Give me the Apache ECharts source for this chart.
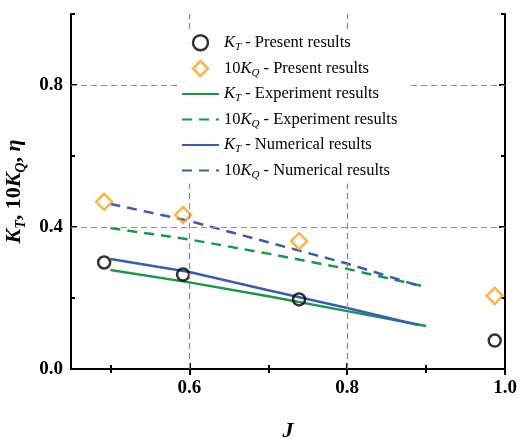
<!DOCTYPE html>
<html>
<head>
<meta charset="utf-8">
<script src="https://cdn.jsdelivr.net/npm/echarts@6/dist/echarts.min.js"></script>
<style>html,body{margin:0;padding:0;background:#fff}#c{width:531px;height:439px}</style>
</head>
<body>
<div id="c"></div>
<script>
// ---- data ----
const J_present = [0.492, 0.592, 0.739, 0.987];
const KT_present = [0.300, 0.266, 0.196, 0.080];
const KQ10_present = [0.471, 0.434, 0.360, 0.206];
const J_exp = [0.5, 0.6, 0.7, 0.8, 0.9];
const KT_exp = [0.279, 0.244, 0.205, 0.163, 0.121];
const KQ10_exp = [0.397, 0.365, 0.325, 0.282, 0.231];
const J_num = [0.5, 0.6, 0.7, 0.8, 0.89];
const KT_num = [0.310, 0.273, 0.222, 0.172, 0.124];
const KQ10_num = [0.465, 0.417, 0.357, 0.297, 0.235];
const xMajorTicks = [0.6, 0.8, 1.0];
const xMinorTicks = [0.5, 0.7, 0.9];
const yMajorTicks = [0.0, 0.4, 0.8];
const yMinorTicks = [0.2, 0.6, 1.0];
const xGridLines = [0.6, 0.8];
const yGridLines = [0.4, 0.8];
const seriesNames = ['KT - Present results', '10KQ - Present results', 'KT - Experiment results',
  '10KQ - Experiment results', 'KT - Numerical results', '10KQ - Numerical results'];
const legendRich = {
  'KT - Present results': '{i|K}{s|T}{t| - Present results}',
  '10KQ - Present results': '{t|10}{i|K}{s|Q}{t| - Present results}',
  'KT - Experiment results': '{i|K}{s|T}{t| - Experiment results}',
  '10KQ - Experiment results': '{t|10}{i|K}{s|Q}{t| - Experiment results}',
  'KT - Numerical results': '{i|K}{s|T}{t| - Numerical results}',
  '10KQ - Numerical results': '{t|10}{i|K}{s|Q}{t| - Numerical results}'
};

const zip = (a, b) => a.map((v, i) => [v, b[i]]);
const FONT = 'Liberation Serif';
const GREEN = '#17994a', BLUE = '#3a5cb3', ORANGE = '#ffa214';
const DIAMOND = 'path://M0,-1L1,0L0,1L-1,0Z';
const axisLineStyle = { show: true, lineStyle: { color: '#000', width: 2 } };

function xAx(pos, ticks, len, labels) {
  return {
    type: 'value', position: pos, min: 0.45, max: 1.0,
    axisLine: labels ? axisLineStyle : { show: false },
    axisTick: { show: true, inside: true, length: len, customValues: ticks, lineStyle: { color: '#000', width: 2 } },
    axisLabel: labels ? { show: true, customValues: labels, formatter: v => v.toFixed(1), margin: 10,
      fontFamily: FONT, fontWeight: 'bold', fontSize: 19, color: '#000' } : { show: false },
    splitLine: { show: false }
  };
}
function yAx(pos, ticks, len, labels) {
  return {
    type: 'value', position: pos, min: 0, max: 1.0,
    axisLine: labels !== null ? axisLineStyle : { show: false },
    axisTick: { show: true, inside: true, length: len, customValues: ticks, lineStyle: { color: '#000', width: 2 } },
    axisLabel: labels ? { show: true, customValues: labels, formatter: v => v.toFixed(1), margin: 8,
      fontFamily: FONT, fontWeight: 'bold', fontSize: 19, color: '#000' } : { show: false },
    splitLine: { show: false }
  };
}

const xAxes = [xAx('bottom', xMajorTicks, 6, xMajorTicks), xAx('bottom', xMinorTicks, 4, false),
  xAx('top', xMajorTicks, 6, false), xAx('top', xMinorTicks, 4, false)];
xAxes[2].axisLine = axisLineStyle;
Object.assign(xAxes[0], {
  name: 'J', nameLocation: 'middle', nameGap: 51,
  nameTextStyle: { fontFamily: FONT, fontWeight: 'bold', fontStyle: 'italic', fontSize: 22, color: '#000' }
});
const yAxes = [yAx('left', yMajorTicks, 6, yMajorTicks), yAx('left', yMinorTicks, 4, null),
  yAx('right', yMajorTicks, 6, false), yAx('right', yMinorTicks, 4, null)];
yAxes[2].axisLine = axisLineStyle;
Object.assign(yAxes[0], {
  name: '{i|K}{s|T}{b|, 10}{i|K}{s|Q}{b|, }{i|η}', nameLocation: 'middle', nameGap: 39, nameRotate: 90,
  nameTextStyle: {
    fontFamily: FONT, fontWeight: 'bold', fontSize: 22, color: '#000',
    rich: {
      i: { fontFamily: FONT, fontWeight: 'bold', fontStyle: 'italic', fontSize: 22, lineHeight: 28, color: '#000' },
      b: { fontFamily: FONT, fontWeight: 'bold', fontSize: 22, lineHeight: 28, color: '#000' },
      s: { fontFamily: FONT, fontWeight: 'bold', fontStyle: 'italic', fontSize: 14, lineHeight: 14, verticalAlign: 'bottom', color: '#000' }
    }
  }
});

const gridMarks = xGridLines.map(v => ({ xAxis: v })).concat(yGridLines.map(v => ({ yAxis: v })));
const hiddenSymbol = { color: 'rgba(0,0,0,0)', borderWidth: 0 };

const option = {
  animation: false,
  backgroundColor: '#fff',
  grid: { left: 71, right: 26, top: 14, bottom: 70, containLabel: false, outerBoundsMode: 'none' },
  xAxis: xAxes,
  yAxis: yAxes,
  legend: {
    orient: 'vertical', left: 177, top: 31, padding: [3, 12, 3, 4], z: 20,
    backgroundColor: '#fff', itemWidth: 37, itemHeight: 15, itemGap: 7,
    data: [
      { name: seriesNames[0], icon: 'path://M0,-1A1,1 0 1,1 0,1A1,1 0 1,1 0,-1Z', itemStyle: { borderWidth: 2.5 } },
      { name: seriesNames[1], icon: DIAMOND, itemStyle: { borderWidth: 2.5 } },
      seriesNames[2], seriesNames[3], seriesNames[4], seriesNames[5]
    ],
    formatter: n => legendRich[n],
    textStyle: {
      fontFamily: FONT, fontSize: 16.5, color: '#000',
      rich: {
        t: { fontFamily: FONT, fontSize: 16.5, lineHeight: 20, color: '#000' },
        i: { fontFamily: FONT, fontStyle: 'italic', fontSize: 16.5, lineHeight: 20, color: '#000' },
        s: { fontFamily: FONT, fontStyle: 'italic', fontSize: 11, lineHeight: 10, verticalAlign: 'bottom', color: '#000' }
      }
    }
  },
  series: [
    { name: seriesNames[2], type: 'line', data: zip(J_exp, KT_exp), symbol: 'none', z: 3,
      lineStyle: { color: GREEN, width: 2.5 }, itemStyle: hiddenSymbol,
      markLine: { silent: true, symbol: ['none', 'none'], label: { show: false },
        lineStyle: { color: '#8c8c8c', width: 1.2, type: [6, 4] }, emphasis: { disabled: true }, data: gridMarks } },
    { name: seriesNames[3], type: 'line', data: zip(J_exp, KQ10_exp), symbol: 'none', z: 3,
      lineStyle: { color: GREEN, width: 2.5, type: [10, 7] }, itemStyle: hiddenSymbol },
    { name: seriesNames[4], type: 'line', data: zip(J_num, KT_num), symbol: 'none', z: 3,
      lineStyle: { color: BLUE, width: 2.5 }, itemStyle: hiddenSymbol },
    { name: seriesNames[5], type: 'line', data: zip(J_num, KQ10_num), symbol: 'none', z: 3,
      lineStyle: { color: BLUE, width: 2.5, type: [10, 7] }, itemStyle: hiddenSymbol },
    { name: seriesNames[0], type: 'scatter', data: zip(J_present, KT_present), symbol: 'circle', symbolSize: 12, z: 4,
      itemStyle: { color: 'rgba(255,255,255,0)', borderColor: '#000', borderWidth: 2.5 } },
    { name: seriesNames[1], type: 'scatter', data: zip(J_present, KQ10_present), symbol: DIAMOND, symbolSize: [16, 16], z: 4,
      itemStyle: { color: 'rgba(255,255,255,0)', borderColor: ORANGE, borderWidth: 2.5 } }
  ]
};
const chart = echarts.init(document.getElementById('c'), null, { renderer: 'canvas' });
chart.setOption(option);
</script>
</body>
</html>
